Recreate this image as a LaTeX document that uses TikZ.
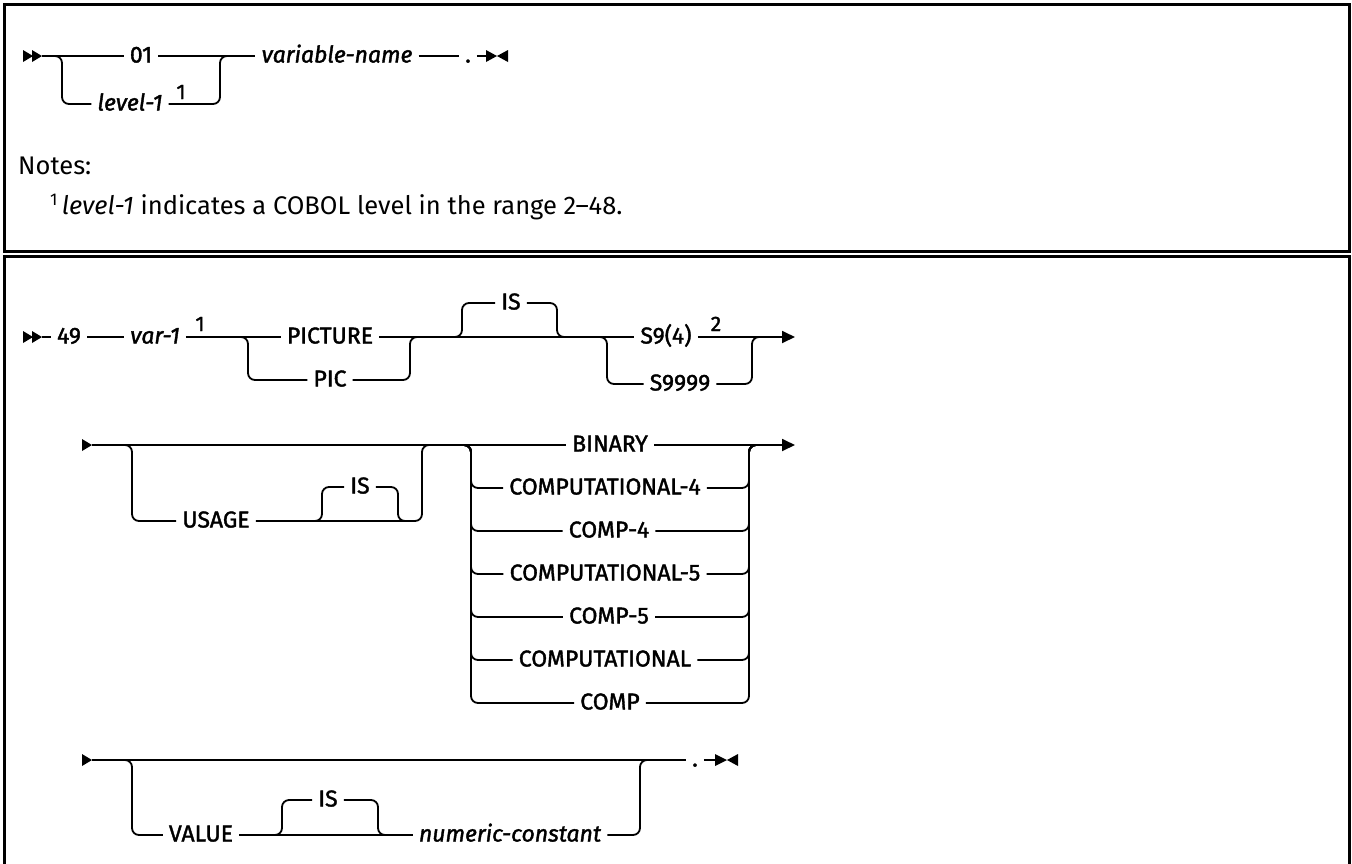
\documentclass[tikz,border=0pt]{standalone}
\usepackage{fontspec}
\setmainfont{Fira Sans}
\newfontfamily\dkw{Fira Sans}[FakeBold=1.6]
\usetikzlibrary{arrows.meta}
\tikzset{
  rr/.style={line width=1.8pt, line cap=butt},
  rc/.style={rr, rounded corners=7pt},
  kw/.style={font=\dkw\fontsize{23}{27}\selectfont, inner xsep=6pt, inner ysep=0pt, text height=13pt, text depth=0pt},
  kwi/.style={kw, font=\dkw\itshape\fontsize{23}{27}\selectfont},
  supn/.style={font=\dkw\fontsize{21}{24}\selectfont, inner sep=0pt, anchor=base},
  tipa/.style={-{Triangle[length=13pt,width=12pt]}},
  frame/.style={line width=3pt},
  notefont/.style={font=\fontsize{25.5}{30}\selectfont, inner sep=0pt, anchor=base west}
}
\begin{document}
\begin{tikzpicture}[x=1pt,y=-1pt]
\useasboundingbox (0,0) rectangle (1352,863);
% frames
\draw[frame] (4.5,4.5) rectangle (1349.5,251);
\draw[line width=2.5pt] (4.5,900) -- (4.5,256.5) -- (1349.5,256.5) -- (1349.5,900);

% ---------- Row 1 ----------
\fill (23,50) -- (33,56) -- (23,62) -- cycle;
\fill (32,50) -- (42,56) -- (32,62) -- cycle;
\coordinate (s1) at (42,56);
\node[kw] (t01) at (141,56) {01};
\node[kwi] (lvl) at (130,104) {level-1};
\node[supn] (sup1a) at (181,99) {1};
\node[kwi] (vn) at (337,56) {variable-name};
\node[kw] (dot1) at (468,56) {.};
\draw[rr] (s1) -- (t01.west);
\draw[rr] (t01.east) -- (vn.west);
\draw[rr] (vn.east) -- (dot1.west);
\draw[rc] (52,56) -| (62,104) -- (lvl.west);
\draw[rc] (lvl.east) -| (220,56) -- (230,56);
\coordinate (e1) at (486,56);
\draw[rr] (dot1.east) -- (e1);
\fill (486,50) -- (497,56) -- (486,62) -- cycle;
\fill (508,50) -- (497,56) -- (508,62) -- cycle;

% notes
\node[notefont] (notes) at (18,174) {Notes:};
\node[notefont] (fn) at (50,214) {\raisebox{9pt}{\fontsize{17}{17}\selectfont 1}\,\textit{level-1} indicates a COBOL level in the range 2–48.};

% ---------- Row A ----------
\fill (23,331) -- (33,337) -- (23,343) -- cycle;
\fill (32,331) -- (42,337) -- (32,343) -- cycle;
\coordinate (a0) at (42,337);
\node[kw] (n49) at (69,337) {49};
\node[kwi] (var1) at (155,337) {var-1};
\node[supn] (sup1b) at (200,331) {1};
\node[kw] (pict) at (330,337) {PICTURE};
\node[kw] (pic) at (330,380) {PIC};
\node[kw] (is1) at (511,303) {IS};
\node[kw] (s94) at (666,337) {S9(4)};
\node[supn] (sup2) at (716,331) {2};
\node[kw] (s99) at (680,384) {S9999};
\draw[rr] (a0) -- (n49.west);
\draw[rr] (n49.east) -- (var1.west);
\draw[rr] (var1.east) -- (pict.west);
\draw[rc] (238,337) -| (248,380) -- (pic.west);
\draw[rc] (pic.east) -| (410,337) -- (420,337);
\draw[rr] (pict.east) -- (s94.west);
\draw[rc] (453,337) -| (462,303) -- (is1.west);
\draw[rc] (is1.east) -| (557,337) -- (566,337);
\draw[rc] (598,337) -| (607,384) -- (s99.west);
\draw[rc] (s99.east) -| (752,337) -- (762,337);
\coordinate (aend) at (795,337);
\draw[rr,tipa] (s94.east) -- (aend);

% ---------- Row B ----------
\fill (82,439) -- (92,445) -- (82,451) -- cycle;
\coordinate (b0) at (92,445);
\node[kw] (usage) at (216,521) {USAGE};
\node[kw] (is2) at (360,487) {IS};
\node[kw] (bin) at (610,445) {BINARY};
\node[kw] (c4) at (605,488) {COMPUTATIONAL-4};
\node[kw] (cp4) at (609,531) {COMP-4};
\node[kw] (c5) at (605,574) {COMPUTATIONAL-5};
\node[kw] (cp5) at (609,617) {COMP-5};
\node[kw] (cc) at (605,660) {COMPUTATIONAL};
\node[kw] (cp) at (610,703) {COMP};
\draw[rr] (b0) -- (bin.west);
\draw[rc] (123,445) -| (132,521) -- (usage.west);
\draw[rc] (usage.east) -| (422,445) -- (432,445);
\draw[rc] (313,521) -| (322,487) -- (is2.west);
\draw[rc] (is2.east) -| (398,521) -- (407,521);
\foreach \n in {c4,cp4,c5,cp5,cc,cp}{
  \draw[rc] (462,445) -- (471,445) |- (\n.west);
  \draw[rc] (\n.east) -| (749,445) -- (759,445);
}
\coordinate (bend) at (795,445);
\draw[rr,tipa] (bin.east) -- (bend);

% ---------- Row C ----------
\fill (82,754) -- (92,760) -- (82,766) -- cycle;
\coordinate (c0) at (92,760);
\node[kw] (value) at (201,835) {VALUE};
\node[kw] (is3) at (328,800) {IS};
\node[kwi] (numc) at (510,835) {numeric-constant};
\node[kw] (dot2) at (695,760) {.};
\draw[rr] (c0) -- (dot2.west);
\draw[rc] (123,760) -| (132,835) -- (value.west);
\draw[rr] (value.east) -- (numc.west);
\draw[rc] (273,835) -| (282,800) -- (is3.west);
\draw[rc] (is3.east) -| (378,835) -- (387,835);
\draw[rc] (numc.east) -| (640,760) -- (650,760);
\coordinate (e2) at (715,760);
\draw[rr] (dot2.east) -- (e2);
\fill (715,754) -- (727,760) -- (715,766) -- cycle;
\fill (738,754) -- (727,760) -- (738,766) -- cycle;
\end{tikzpicture}
\end{document}
